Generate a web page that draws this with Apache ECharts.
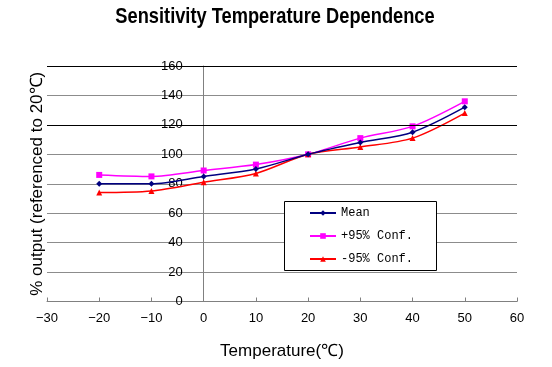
<!DOCTYPE html>
<html>
<head>
<meta charset="utf-8">
<script src="https://cdn.jsdelivr.net/npm/echarts@6/dist/echarts.min.js"></script>
<style>html,body{margin:0;padding:0;background:#fff;}#c{width:552px;height:367px;}</style>
</head>
<body>
<div id="c"></div>
<script>
const temps = [-20, -10, 0, 10, 20, 30, 40, 50];
const meanVals = [80, 80, 85, 90, 100, 108, 115, 132];
const upperVals = [86, 85, 89, 93, 100, 111, 119, 136];
const lowerVals = [74, 75, 81, 87, 100, 105, 111, 128];
const seriesNames = ['Mean', '+95% Conf.', '-95% Conf.'];
const darkGridValues = [120, 160];
const titleText = 'Sensitivity Temperature Dependence';

const pair = (vals) => temps.map((t, i) => [t, vals[i]]);
const chart = echarts.init(document.getElementById('c'));
const fmt = (v) => String(v).replace('-', '\u2212');

const gridLeft = 47, gridRight = 35, W = 552;
const xMin = -30, xMax = 60;
const plotW = W - gridLeft - gridRight;
const yAxisOffset = -plotW * (0 - xMin) / (xMax - xMin);

chart.setOption({
  animation: false,
  backgroundColor: '#ffffff',
  grid: { left: gridLeft, right: gridRight, top: 66, bottom: 65.5, outerBoundsMode: 'none', containLabel: false },
  xAxis: {
    type: 'value', min: xMin, max: xMax, interval: 10,
    name: 'Temperature(\u2103)', nameLocation: 'middle', nameGap: 41,
    nameTextStyle: { fontFamily: 'Liberation Sans, Arial, sans-serif', fontSize: 17, color: '#000' },
    axisLine: { lineStyle: { color: '#808080', width: 1 } },
    axisTick: { show: true, inside: true, length: 4, lineStyle: { color: '#808080' } },
    axisLabel: { formatter: fmt, margin: 10, fontFamily: 'Liberation Sans, Arial, sans-serif', fontSize: 13, color: '#000' },
    splitLine: { show: false }
  },
  yAxis: {
    type: 'value', min: 0, max: 160, interval: 20,
    offset: yAxisOffset,
    name: '% output (referenced to 20\u2103)', nameLocation: 'middle', nameGap: 158, nameRotate: 90,
    nameTextStyle: { fontFamily: 'Liberation Sans, Arial, sans-serif', fontSize: 17, color: '#000' },
    axisLine: { onZero: false, lineStyle: { color: '#808080', width: 1 } },
    axisTick: { show: false },
    axisLabel: { margin: 21, fontFamily: 'Liberation Sans, Arial, sans-serif', fontSize: 13, color: '#000' },
    splitLine: { show: true, lineStyle: { color: '#8c8c8c', width: 1 } }
  },
  legend: {
    orient: 'vertical', left: 309, top: 207, z: 20, padding: 0,
    itemWidth: 26, itemHeight: 7, itemGap: 11,
    data: seriesNames,
    textStyle: { fontFamily: "'Liberation Mono', 'DejaVu Sans Mono', monospace", fontSize: 12, color: '#000', lineHeight: 12 },
    backgroundColor: 'transparent'
  },
  graphic: [
    {
      type: 'rect', left: 284, top: 201, z: 10,
      shape: { width: 152, height: 69 },
      style: { fill: '#fff', stroke: '#000', lineWidth: 1 }
    },
    {
      type: 'text', x: 275, y: 17, scaleX: 0.83, z: 10,
      style: {
        text: titleText, align: 'center', verticalAlign: 'middle',
        font: "bold 22px 'Liberation Sans', Arial, sans-serif", fill: '#000'
      }
    }
  ],
  series: [
    {
      name: seriesNames[0], type: 'line', data: pair(meanVals), smooth: 0.3,
      symbol: 'diamond', symbolSize: 6,
      lineStyle: { color: '#000080', width: 1.5 }, itemStyle: { color: '#000080' }, z: 4,
      markLine: {
        silent: true, symbol: 'none', label: { show: false },
        lineStyle: { color: '#000', width: 1, type: 'solid' },
        data: darkGridValues.map(v => ({ yAxis: v }))
      }
    },
    {
      name: seriesNames[1], type: 'line', data: pair(upperVals), smooth: 0.3,
      symbol: 'rect', symbolSize: 6,
      lineStyle: { color: '#ff00ff', width: 1.5 }, itemStyle: { color: '#ff00ff' }, z: 3
    },
    {
      name: seriesNames[2], type: 'line', data: pair(lowerVals), smooth: 0.3,
      symbol: 'triangle', symbolSize: 6,
      lineStyle: { color: '#ff0000', width: 1.5 }, itemStyle: { color: '#ff0000' }, z: 3
    }
  ]
});
</script>
</body>
</html>
